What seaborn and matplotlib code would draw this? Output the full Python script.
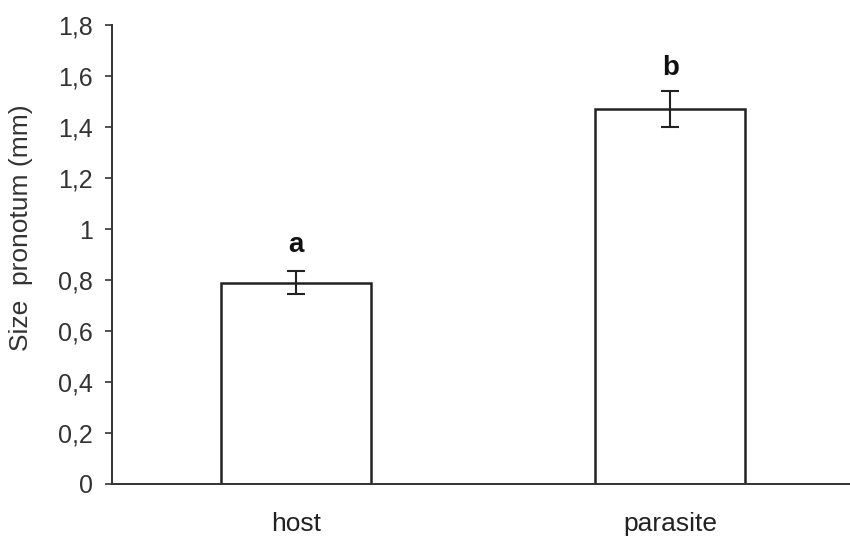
import seaborn as sns
import matplotlib.pyplot as plt
from matplotlib.ticker import FuncFormatter, FixedLocator

# Data
groups = ['host', 'parasite']
sizes = [0.79, 1.47]
errors = [0.045, 0.07]
letters = ['a', 'b']
letter_y = [0.937, 1.63]

sns.set_style('white')
plt.rcParams['font.family'] = ['Liberation Sans', 'DejaVu Sans']

fig = plt.figure(figsize=(8.5, 5.38), dpi=100)
ax = fig.add_axes([0.132, 0.1004, 0.8765, 0.8531])

sns.barplot(x=groups, y=sizes, color='white', edgecolor='#222222',
            linewidth=1.8, width=0.4, ax=ax)
ax.errorbar(x=range(len(groups)), y=sizes, yerr=errors, fmt='none',
            ecolor='#222222', elinewidth=1.5, capsize=6.5, capthick=1.5)

for i, (lt, ly) in enumerate(zip(letters, letter_y)):
    ax.text(i, ly, lt, ha='center', va='center', fontsize=20,
            fontweight='bold', color='#111111')

ax.set_xlim(-0.492, 1.5)
ax.set_ylim(0, 1.8)
ax.set_yticks([0, 0.2, 0.4, 0.6, 0.8, 1.0, 1.2, 1.4, 1.6, 1.8])
ax.yaxis.set_major_formatter(FuncFormatter(lambda v, p: f'{v:g}'.replace('.', ',')))
ax.set_ylabel('Size  pronotum (mm)', fontsize=19, color='#333333')
ax.yaxis.set_label_coords(-0.106, 0.558)
ax.set_xlabel('')

# category labels without ticks, ticks between categories
ax.tick_params(axis='x', which='major', length=0, pad=20, labelsize=19, labelcolor='#222222')
ax.xaxis.set_minor_locator(FixedLocator([-0.492, 0.5, 1.5]))
ax.tick_params(axis='x', which='minor', length=5, width=1.2, color='#333333', direction='out')
ax.tick_params(axis='y', length=5, width=1.2, color='#333333', direction='out',
               labelsize=18, labelcolor='#333333', left=True, pad=9)

for s in ['top', 'right']:
    ax.spines[s].set_visible(False)
for s in ['left', 'bottom']:
    ax.spines[s].set_color('#333333')
    ax.spines[s].set_linewidth(1.4)

fig.savefig('out.png', dpi=100)
